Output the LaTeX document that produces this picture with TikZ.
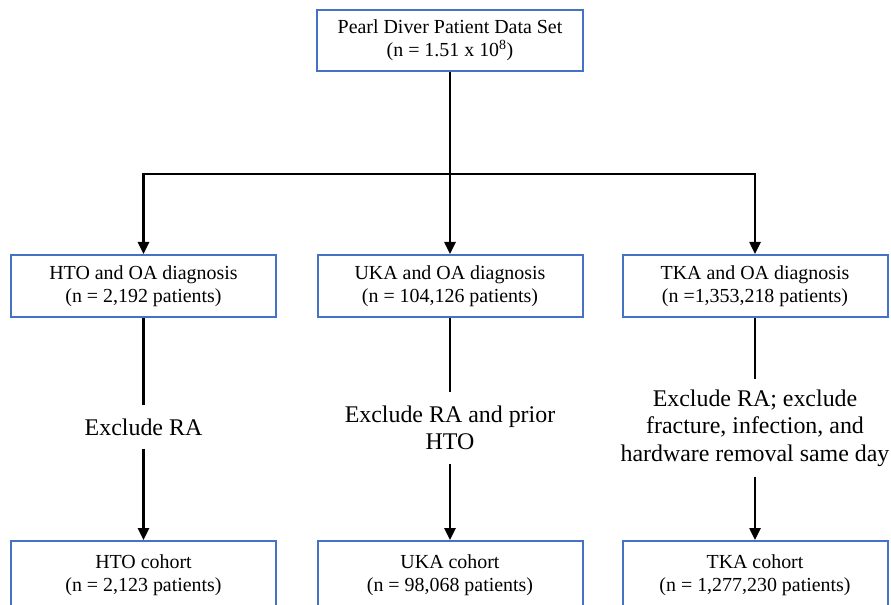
\documentclass[tikz,border=0pt]{standalone}
\usepackage{fontspec}
\setmainfont{Liberation Serif}
\usetikzlibrary{arrows.meta}
\definecolor{boxblue}{RGB}{68,114,196}
\begin{document}
\begin{tikzpicture}[x=1bp,y=-1bp,
  box/.style={draw=boxblue, line width=2bp, fill=white, minimum width=265bp,
    minimum height=62bp, align=center, inner sep=0pt,
    font=\fontsize{20}{23}\selectfont},
  lab/.style={align=center, inner xsep=0pt, font=\fontsize{24}{27.6}\selectfont},
  conn/.style={line width=2.5bp},
  arr/.style={conn, -{Triangle[length=12bp,width=11bp]}}]
\useasboundingbox (0,0) rectangle (891,605);
\node[box, minimum width=266bp, minimum height=61bp] (top) at (450,40.5)
  {Pearl Diver Patient Data Set\\(n = 1.51 x 10\textsuperscript{8})};
\node[box] (m1) at (143.5,286) {HTO and OA diagnosis\\(n = 2,192 patients)};
\node[box] (m2) at (450,286) {UKA and OA diagnosis\\(n = 104,126 patients)};
\node[box] (m3) at (755,286) {TKA and OA diagnosis\\(n =1,353,218 patients)};
\node[box, minimum height=68bp] (b1) at (143.5,575) {HTO cohort\\(n = 2,123 patients)};
\node[box, minimum height=68bp] (b2) at (450,575) {UKA cohort\\(n = 98,068 patients)};
\node[box, minimum height=68bp] (b3) at (755,575) {TKA cohort\\(n = 1,277,230 patients)};
\node[lab, inner ysep=13bp] (l1) at (143.5,427) {Exclude RA};
\node[lab, inner ysep=14bp] (l2) at (450,428) {Exclude RA and prior\\HTO};
\node[lab, inner ysep=10bp] (l3) at (755,428) {Exclude RA; exclude\\fracture, infection, and\\hardware removal same day};
\coordinate (j) at (450,174);
\draw[conn] (top.south) -- (j);
\draw[arr] (j) -| (m1.north);
\draw[arr] (j) -- (m2.north);
\draw[arr] (j) -| (m3.north);
\draw[conn] (m1.south) -- (l1.north);
\draw[arr] (l1.south) -- (b1.north);
\draw[conn] (m2.south) -- (l2.north);
\draw[arr] (l2.south) -- (b2.north);
\draw[conn] (m3.south) -- (l3.north);
\draw[arr] (l3.south) -- (b3.north);
\end{tikzpicture}
\end{document}
